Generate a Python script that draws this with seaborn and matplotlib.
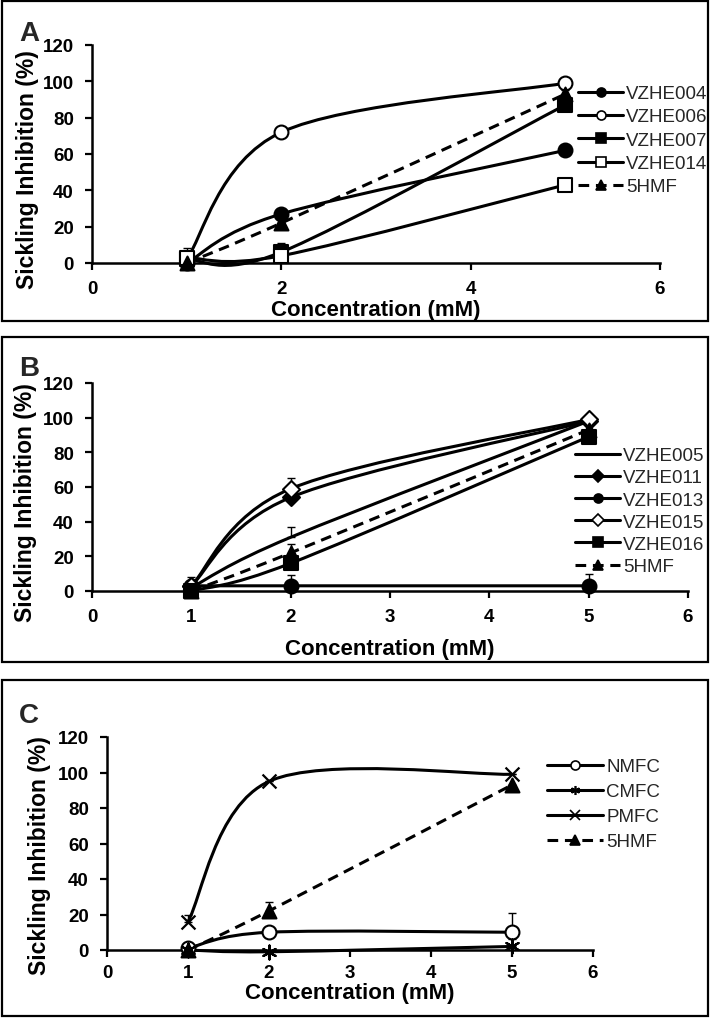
import numpy as np
import matplotlib
matplotlib.use("Agg")
import matplotlib.pyplot as plt
import seaborn as sns
from matplotlib.path import Path
from matplotlib.patches import PathPatch, Rectangle
from matplotlib.lines import Line2D

# ---------------- data ----------------
conc = [1, 2, 5]

# Panel A
a_labels = ["VZHE004", "VZHE006", "VZHE007", "VZHE014", "5HMF"]
a_vzhe004 = [0, 27, 62]
a_vzhe006 = [2, 72, 99]
a_vzhe007 = [2, 6, 87]
a_vzhe014 = [3, 4, 43]
a_5hmf = [0, 22, 93]
a_vzhe004_err = [0, 2, 0]
a_vzhe006_err = [0, 0, 0]
a_vzhe007_err = [0, 5, 0]
a_vzhe014_err = [5, 0, 3]
a_5hmf_err = [0, 0, 2]

# Panel B
b_labels = ["VZHE005", "VZHE011", "VZHE013", "VZHE015", "VZHE016", "5HMF"]
b_vzhe005 = [2, 31, 98]
b_vzhe011 = [3, 54, 98]
b_vzhe013 = [3, 3, 3]
b_vzhe015 = [3, 59, 99]
b_vzhe016 = [0, 16, 89]
b_5hmf = [0, 22, 93]
b_vzhe005_err = [0, 6, 0]
b_vzhe011_err = [0, 0, 0]
b_vzhe013_err = [5, 6, 7]
b_vzhe015_err = [0, 6, 0]
b_vzhe016_err = [0, 0, 0]
b_5hmf_err = [0, 5, 0]

# Panel C
c_labels = ["NMFC", "CMFC", "PMFC", "5HMF"]
c_nmfc = [1, 10, 10]
c_cmfc = [0, -1, 2]
c_pmfc = [16, 95, 99]
c_5hmf = [0, 22, 93]
c_nmfc_err = [0, 0, 11]
c_cmfc_err = [0, 0, 4]
c_pmfc_err = [4, 0, 0]
c_5hmf_err = [0, 5, 0]

a_xticks = [0, 2, 4, 6]
bc_xticks = [0, 1, 2, 3, 4, 5, 6]
yticks = [0, 20, 40, 60, 80, 100, 120]

# ---------------- styles ----------------
sns.set_theme(style="ticks")
plt.rcParams["font.family"] = ["Liberation Sans", "DejaVu Sans"]

LW = 2.2
DASH = (0, (3.5, 2.2))
STY = {
    "fcirc": dict(marker="o", fc="black", ls="-"),
    "ocirc": dict(marker="o", fc="white", ls="-"),
    "fsq": dict(marker="s", fc="black", ls="-"),
    "osq": dict(marker="s", fc="white", ls="-"),
    "ftri": dict(marker="^", fc="black", ls=DASH),
    "fdia": dict(marker="D", fc="black", ls="-"),
    "odia": dict(marker="D", fc="white", ls="-"),
    "none": dict(marker=None, fc="black", ls="-"),
    "star": dict(marker=(6, 2, 0), fc="black", ls="-"),
    "x": dict(marker="x", fc="black", ls="-"),
}
MS = 10

W, H = 712, 1020
fig = plt.figure(figsize=(W / 100, H / 100), dpi=100)


def px_axes(x0, x1, ytop, ybot):
    return fig.add_axes([x0 / W, 1 - ybot / H, (x1 - x0) / W, (ybot - ytop) / H])


def smooth_path(ax, xs, ys):
    T = ax.transData
    P = T.transform(np.column_stack([xs, ys]).astype(float))
    n = len(P)
    verts = [P[0]]
    codes = [Path.MOVETO]
    for i in range(n - 1):
        p0 = P[i - 1] if i > 0 else P[i]
        p1 = P[i]
        p2 = P[i + 1]
        p3 = P[i + 2] if i + 2 < n else P[i + 1]
        c1 = p1 + (p2 - p0) / 6.0
        c2 = p2 - (p3 - p1) / 6.0
        verts += [c1, c2, p2]
        codes += [Path.CURVE4] * 3
    verts = T.inverted().transform(np.array(verts))
    return Path(verts, codes)


def draw_series(ax, x, y, err, key, label):
    st = STY[key]
    ax.add_patch(PathPatch(smooth_path(ax, x, y), fill=False, lw=LW, ec="black",
                           ls=st["ls"], capstyle="butt", zorder=2, clip_on=False))
    if any(e > 0 for e in err):
        ax.errorbar(x, y, yerr=[np.zeros(len(err)), err], fmt="none", ecolor="black",
                    elinewidth=1.0, capsize=3, capthick=1.0, zorder=3, clip_on=False)
    if st["marker"] is not None:
        m = st["marker"]
        if m in ("x",) or isinstance(m, tuple):
            sns.scatterplot(x=x, y=y, ax=ax, marker=m, s=MS ** 2, color="black",
                            linewidth=1.6, zorder=4, clip_on=False, legend=False)
        else:
            s = MS ** 2 * (0.75 if m == "D" else 1.0)
            sns.scatterplot(x=x, y=y, ax=ax, marker=m, s=s, facecolor=st["fc"],
                            edgecolor="black", linewidth=1.5, zorder=4, clip_on=False,
                            legend=False)
    return Line2D([], [], color="black", lw=LW, ls=st["ls"], marker=st["marker"],
                  mfc=st["fc"], mec="black", ms=6.5, mew=1.2, label=label)


def style_axes(ax, xticks, x0px, x1px, ytop, ybot, xlab_y, ylab_x, ylab_y, xpad):
    ax.set_xlim(0, 6)
    ax.set_ylim(0, 120)
    ax.set_xticks(xticks)
    ax.set_yticks(yticks)
    sns.despine(ax=ax)
    for sp in ("left", "bottom"):
        ax.spines[sp].set_linewidth(1.8)
        ax.spines[sp].set_color("black")
    ax.tick_params(direction="out", length=5, width=1.6, colors="black",
                   labelsize=13.5, pad=8)
    ax.tick_params(axis="x", pad=xpad)
    for t in ax.get_xticklabels() + ax.get_yticklabels():
        t.set_fontweight("bold")
    ax.set_xlabel("Concentration (mM)", fontsize=16, fontweight="bold", color="black")
    ax.set_ylabel("Sickling Inhibition (%)", fontsize=16.5, fontweight="bold", color="black")
    ax.yaxis.label.set_va("center")
    ax.xaxis.label.set_va("center")
    ax.xaxis.set_label_coords(0.5, (ybot - xlab_y) / (ybot - ytop))
    ax.yaxis.set_label_coords((ylab_x - x0px) / (x1px - x0px), (ybot - ylab_y) / (ybot - ytop))
    ax.set_facecolor("none")


def legend(ax, handles, x, ytop, hl, ls):
    ax.legend(handles=handles, loc="upper left", bbox_to_anchor=(x / W, 1 - ytop / H),
              bbox_transform=fig.transFigure, frameon=False, fontsize=13.5,
              handlelength=hl, handletextpad=0.15, labelspacing=ls, borderpad=0,
              borderaxespad=0)


# boxes
for (y0, y1) in [(2, 322), (338, 663), (681, 1017)]:
    fig.add_artist(Rectangle((2 / W, 1 - y1 / H), 706 / W, (y1 - y0) / H,
                             transform=fig.transFigure, fill=False, lw=1.6, ec="black"))

# ---------------- Panel A ----------------
axA = px_axes(92, 660, 46, 264)
axA.set_xlim(0, 6); axA.set_ylim(0, 120)
hA = [
    draw_series(axA, conc, a_vzhe004, a_vzhe004_err, "fcirc", a_labels[0]),
    draw_series(axA, conc, a_vzhe006, a_vzhe006_err, "ocirc", a_labels[1]),
    draw_series(axA, conc, a_vzhe007, a_vzhe007_err, "fsq", a_labels[2]),
    draw_series(axA, conc, a_vzhe014, a_vzhe014_err, "osq", a_labels[3]),
    draw_series(axA, conc, a_5hmf, a_5hmf_err, "ftri", a_labels[4]),
]
style_axes(axA, a_xticks, 92, 660, 46, 264, 311, 27, 170, 7)
legend(axA, hA, 578, 86, 2.4, 0.33)
fig.text(19 / W, 1 - 41 / H, "A", fontsize=20, fontweight="bold", ha="left", va="baseline")

# ---------------- Panel B ----------------
axB = px_axes(92, 688, 384, 592)
axB.set_xlim(0, 6); axB.set_ylim(0, 120)
hB = [
    draw_series(axB, conc, b_vzhe005, b_vzhe005_err, "none", b_labels[0]),
    draw_series(axB, conc, b_vzhe011, b_vzhe011_err, "fdia", b_labels[1]),
    draw_series(axB, conc, b_vzhe013, b_vzhe013_err, "fcirc", b_labels[2]),
    draw_series(axB, conc, b_vzhe015, b_vzhe015_err, "odia", b_labels[3]),
    draw_series(axB, conc, b_vzhe016, b_vzhe016_err, "fsq", b_labels[4]),
    draw_series(axB, conc, b_5hmf, b_5hmf_err, "ftri", b_labels[5]),
]
style_axes(axB, bc_xticks, 92, 688, 384, 592, 649, 25, 503, 7)
legend(axB, hB, 575, 448, 2.4, 0.27)
fig.text(19 / W, 1 - 376 / H, "B", fontsize=20, fontweight="bold", ha="left", va="baseline")

# ---------------- Panel C ----------------
axC = px_axes(107, 593, 738, 951)
axC.set_xlim(0, 6); axC.set_ylim(0, 120)
hC = [
    draw_series(axC, conc, c_nmfc, c_nmfc_err, "ocirc", c_labels[0]),
    draw_series(axC, conc, c_cmfc, c_cmfc_err, "star", c_labels[1]),
    draw_series(axC, conc, c_pmfc, c_pmfc_err, "x", c_labels[2]),
    draw_series(axC, conc, c_5hmf, c_5hmf_err, "ftri", c_labels[3]),
]
style_axes(axC, bc_xticks, 107, 593, 738, 951, 994, 40, 856, 5)
legend(axC, hC, 547, 759, 3.0, 0.42)
fig.text(19 / W, 1 - 723 / H, "C", fontsize=20, fontweight="bold", ha="left", va="baseline")

fig.savefig("out.png", dpi=100)
